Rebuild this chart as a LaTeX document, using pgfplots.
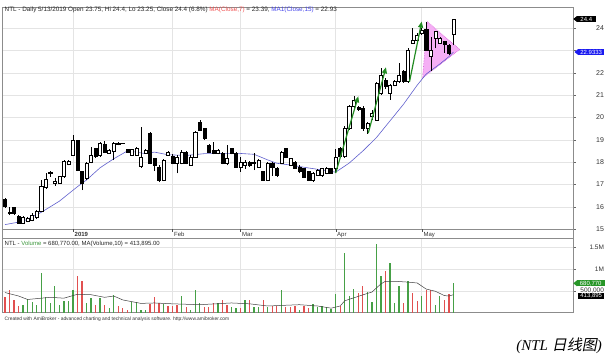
\documentclass[border=0pt]{standalone}
\usepackage{pgfplots}
\pgfplotsset{compat=1.18}
\usepackage{pgfplotstable}
\usetikzlibrary{arrows.meta}
\usepackage{fontspec}
\setmainfont{Liberation Sans}
\newfontfamily\serifit{Liberation Serif}
\newfontfamily\cjk[FakeSlant=0.2]{Noto Sans CJK SC}
\definecolor{gridc}{RGB}{228,228,228}
\definecolor{framec}{RGB}{140,140,140}
\definecolor{maBlue}{RGB}{95,95,205}
\definecolor{volG}{RGB}{70,160,70}
\definecolor{volR}{RGB}{225,80,80}
\definecolor{arrG}{RGB}{35,140,35}
\definecolor{pinkF}{RGB}{245,175,245}
\definecolor{pinkD}{RGB}{215,80,215}
\definecolor{boxBlue}{RGB}{25,25,240}
\definecolor{boxGreen}{RGB}{40,150,40}
\definecolor{titRed}{RGB}{240,80,80}
\definecolor{titBlue}{RGB}{70,70,235}
\definecolor{titGreen}{RGB}{60,150,60}

\pgfplotstableread{
i o h l c
0 16.34 16.40 15.95 16.03
1 15.75 15.97 15.63 15.72
2 15.97 16.00 15.65 15.70
3 15.58 15.62 15.25 15.28
4 15.28 15.60 15.25 15.55
5 15.33 15.55 15.30 15.48
6 15.40 15.70 15.35 15.63
7 15.52 15.85 15.45 15.78
8 15.82 17.20 15.80 16.93
9 16.87 17.50 16.80 17.22
10 17.50 17.60 17.35 17.53
11 17.05 17.30 16.95 17.16
12 17.07 17.40 17.05 17.37
13 17.37 18.10 17.30 18.04
14 17.90 18.10 17.85 18.04
15 18.31 19.20 18.30 18.99
16 18.99 19.00 17.60 17.64
17 17.57 17.60 16.75 17.07
18 17.27 18.00 17.20 17.94
19 18.01 18.69 17.95 18.31
20 18.61 18.65 18.20 18.27
21 18.31 18.90 18.25 18.84
22 18.79 18.95 18.40 18.46
23 18.42 18.60 18.40 18.54
24 18.50 18.90 18.09 18.84
25 18.78 18.90 18.75 18.84
26 18.85 18.88 18.82 18.84
27 18.58 18.60 18.44 18.46
28 18.31 18.60 18.30 18.57
29 18.31 18.70 18.30 18.64
30 17.80 19.58 17.75 18.24
31 18.42 18.60 18.40 18.54
32 19.31 19.35 17.90 17.97
33 18.16 18.20 17.60 17.87
34 17.79 17.85 17.10 17.19
35 17.19 18.15 17.15 18.09
36 18.31 18.50 18.28 18.46
37 18.27 18.35 17.90 17.97
38 17.94 18.30 17.50 18.24
39 17.94 18.55 17.90 18.46
40 18.46 18.50 17.90 17.97
41 17.87 18.30 17.85 18.21
42 18.24 19.40 18.20 19.36
43 19.81 19.90 19.40 19.43
44 19.50 19.55 19.00 19.06
45 18.76 18.80 18.40 18.46
46 18.54 18.90 18.35 18.39
47 18.39 18.60 18.35 18.54
48 18.39 18.45 17.90 17.94
49 17.94 18.76 17.85 18.16
50 18.61 18.65 18.35 18.39
51 18.39 18.45 17.75 17.79
52 17.79 18.24 17.57 18.01
53 17.87 18.10 17.70 18.01
54 18.01 18.05 17.80 17.87
55 18.01 18.39 17.64 17.94
56 17.79 18.15 17.75 18.09
57 17.57 17.60 17.15 17.19
58 17.19 18.00 17.15 17.94
59 17.94 18.00 17.40 17.79
60 17.72 17.80 17.35 17.42
61 17.94 18.50 17.90 18.46
62 18.61 18.65 18.20 18.24
63 17.87 18.20 17.85 18.16
64 18.01 18.05 17.70 17.72
65 17.79 17.85 17.50 17.57
66 17.72 17.75 17.30 17.34
67 17.57 17.60 17.15 17.19
68 17.19 17.55 17.10 17.49
69 17.42 17.70 17.40 17.64
70 17.42 17.75 17.35 17.72
71 17.49 17.78 17.45 17.72
72 17.72 17.75 17.50 17.52
73 17.72 18.60 17.50 18.24
74 18.63 18.70 18.20 18.25
75 18.25 19.60 18.20 19.52
76 19.52 20.55 19.45 20.49
77 20.49 20.95 20.40 20.79
78 20.46 20.50 20.30 20.37
79 20.42 20.50 19.40 19.52
80 19.52 19.80 19.27 19.75
81 20.04 20.34 19.90 20.19
82 19.90 21.60 19.85 21.54
83 21.09 22.20 21.00 21.90
84 21.69 21.75 21.30 21.39
85 21.09 21.50 20.80 21.46
86 21.46 21.70 21.40 21.61
87 21.61 22.43 21.55 21.90
88 22.09 22.15 21.55 21.61
89 21.61 23.10 21.55 23.03
90 23.33 24.00 23.30 23.48
91 23.48 23.80 23.40 23.70
92 23.78 24.00 23.70 23.93
93 23.96 24.30 23.00 23.03
94 22.73 23.60 22.10 23.03
95 23.55 23.90 23.10 23.85
96 23.33 23.60 23.30 23.55
97 23.40 23.45 22.90 23.28
98 23.25 23.30 22.80 22.88
99 23.75 24.40 23.25 24.40
}\candles

\pgfplotsset{
  panel/.style={
    anchor=south west, scale only axis, width=571pt,
    xmin=-0.66, xmax=125.4,
    axis line style={framec, line width=0.6pt},
    xtick={15,37,52,73,92}, xticklabel=\empty,
    major x tick style={draw=none},
    ytick pos=right, yticklabel pos=right,
    tick align=outside, major tick length=2.5pt,
    major y tick style={black!60, line width=0.5pt},
    grid=major, major grid style={gridc, line width=0.5pt},
  },
}

\begin{document}
\begin{tikzpicture}[x=1pt,y=1pt]
\path[use as bounding box] (0,0) rectangle (615,360);

% ---------------- price panel ----------------
\begin{axis}[panel,
  at={(2pt,130.7pt)}, height=222pt,
  ymin=14.99, ymax=24.94,
  ytick={15,16,17,18,19,20,21,22,23,24},
  yticklabels={15,16,17,18,19,20,21,22,{},24},
  yticklabel style={font=\fontsize{7}{7}\selectfont, text=black!80, anchor=east, xshift=32pt},
]
% triangle pattern
\addplot[fill=pinkF, draw=pinkD, densely dotted, line width=0.6pt] coordinates {(93.2,24.3) (92.2,21.78) (100.4,23.05)} -- cycle;
% MA(Close,15)
\addplot[maBlue, line width=0.6pt] coordinates {(0,15.2)(4,15.35)(8,15.75)(12,16.25)(16,16.9)(18,17.2)(21,17.75)(24,18.15)(27,18.5)(29,18.45)(31,18.38)(33,18.45)(36,18.33)(40,18.3)(44,18.38)(48,18.39)(52,18.39)(55,18.35)(58,18.1)(60,17.95)(63,17.87)(67,17.74)(70,17.65)(73,17.55)(76,17.96)(79,18.5)(82,19.1)(85,19.85)(88,20.6)(91,21.45)(93,21.95)(96,22.4)(98,22.73)(99,22.93)};
% candles, one wick and one body per table row
\pgfplotsforeachungrouped \rr in {0,...,99} {%
  \pgfplotstablegetelem{\rr}{i}\of\candles \let\ci\pgfplotsretval
  \pgfplotstablegetelem{\rr}{o}\of\candles \let\co\pgfplotsretval
  \pgfplotstablegetelem{\rr}{h}\of\candles \let\ch\pgfplotsretval
  \pgfplotstablegetelem{\rr}{l}\of\candles \let\cl\pgfplotsretval
  \pgfplotstablegetelem{\rr}{c}\of\candles \let\cc\pgfplotsretval
  \pgfmathsetmacro\xa{\ci-0.34}%
  \pgfmathsetmacro\xb{\ci+0.34}%
  \ifdim\cc pt<\co pt \def\bodyfill{black}\else\def\bodyfill{white}\fi
  \edef\cmd{%
    \noexpand\addplot[black, line width=0.5pt, forget plot] coordinates {(\ci,\cl) (\ci,\ch)};
    \noexpand\addplot[draw=black, fill=\bodyfill, line width=0.5pt, forget plot] coordinates {(\xa,\co) (\xb,\co) (\xb,\cc) (\xa,\cc)} -- cycle;
  }%
  \cmd
}
% trend arrows
\addplot[arrG, line width=1.2pt, -{Triangle[length=6pt,width=5pt]}] coordinates {(73,17.51) (78,20.95)};
\addplot[arrG, line width=1.2pt, -{Triangle[length=6pt,width=5pt]}] coordinates {(80.2,19.3) (84.1,22.25)};
\addplot[arrG, line width=1.2pt, -{Triangle[length=6pt,width=5pt]}] coordinates {(89.3,21.6) (92,24.3)};
\end{axis}

% ---------------- volume panel ----------------
\begin{axis}[panel,
  at={(2pt,47.5pt)}, height=74.2pt,
  ymin=0, ymax=1.7097,
  ytick={0.5,1,1.5},
  yticklabels={{500,000},1M,1.5M},
  yticklabel style={font=\fontsize{6.5}{6.5}\selectfont, text=black!80, anchor=east, xshift=32pt},
]
\addplot[ycomb, volG, line width=1.3pt] coordinates {(4,.18)(5,.31)(6,.25)(7,.18)(8,.92)(9,.35)(10,.23)(11,.60)(12,.18)(13,.27)(14,.27)(15,.52)(18,.23)(19,.33)(21,.33)(23,.10)(24,.41)(28,.25)(29,.25)(30,.05)(31,.05)(35,.19)(39,.37)(41,.06)(42,.51)(43,.23)(47,.22)(50,.12)(51,.10)(53,.29)(55,.12)(56,.12)(58,.12)(61,.51)(65,.05)(68,.20)(69,.12)(70,.15)(71,.12)(72,.08)(73,.43)(75,1.37)(76,.38)(77,.55)(80,.48)(81,.25)(82,1.58)(83,.83)(85,1.14)(86,.22)(87,.62)(89,.72)(92,.37)(95,.18)(96,.37)(99,.68)};
\addplot[ycomb, volR, line width=1.3pt] coordinates {(0,.35)(1,.52)(2,.29)(3,.15)(16,.85)(17,.73)(20,.18)(22,.18)(25,.15)(26,.10)(27,.06)(32,.20)(33,.35)(34,.22)(36,.15)(37,.14)(38,.18)(40,.12)(44,.12)(45,.12)(46,.22)(48,.29)(49,.18)(52,.10)(54,.29)(57,.28)(59,.15)(60,.14)(62,.12)(63,.12)(64,.14)(66,.15)(67,.10)(74,.15)(78,.46)(79,.62)(84,.96)(88,.22)(90,.46)(91,.27)(93,.52)(94,.51)(97,.28)(98,.43)};
\addplot[black!75, line width=0.5pt] coordinates {(0,.46)(3,.38)(5,.30)(8,.33)(10,.35)(13,.33)(16,.42)(19,.41)(22,.35)(24,.38)(26,.29)(28,.25)(30,.21)(33,.22)(37,.20)(43,.18)(50,.22)(54,.20)(58,.15)(65,.18)(69,.15)(72,.10)(74,.15)(75,.27)(80,.44)(81,.47)(83,.66)(84,.72)(86,.72)(89,.70)(91,.68)(93,.54)(95,.49)(97,.39)(98,.38)(99,.41)};
\end{axis}

% date strip
\draw[framec, line width=0.6pt] (2,121.7) rectangle (573,130.7);
\foreach \xx in {73,172.6,240.6,335.7,421.8} {\draw[black!70, line width=0.4pt] (\xx,130.7) -- (\xx,127.8);}
\begin{scope}[every node/.style={font=\fontsize{6}{6}\selectfont, anchor=base west, inner sep=0pt, text=black!80}]
\node at (74.5,123.8) {\bfseries 2019};
\node at (174,123.8) {Feb};
\node at (242,123.8) {Mar};
\node at (337,123.8) {Apr};
\node at (423.3,123.8) {May};
\end{scope}

% titles
\node[anchor=base west, inner sep=0pt, font=\fontsize{6.35}{6.35}\selectfont, text=black!85] at (4.5,348.2) {NTL - Daily 5/13/2019 Open 23.75, Hi 24.4, Lo 23.25, Close 24.4 (6.8\%) \textcolor{titRed}{MA(Close,7)} = 23.39, \textcolor{titBlue}{MA1(Close,15)} = 22.93};
\node[anchor=base west, inner sep=0pt, font=\fontsize{6}{6}\selectfont, text=black!85] at (4.5,114.8) {NTL - \textcolor{titGreen}{Volume} = 680,770.00, MA(Volume,10) = 413,895.00};
\node[anchor=base west, inner sep=0pt, font=\fontsize{4.9}{4.9}\selectfont, text=black!80] at (4.5,40) {Created with AmiBroker - advanced charting and technical analysis software. http://www.amibroker.com};

% value boxes (right axis)
\begin{scope}[every node/.style={font=\fontsize{6}{6}\selectfont, text=white, inner sep=0.6pt, minimum height=6.2pt, anchor=west}]
\fill[black] (573.3,341) -- (577,344) -- (577,338) -- cycle;
\node[fill=black, minimum width=18.5pt] at (576.8,341) {24.4};
\fill[boxBlue] (574.5,308) -- (578.2,311) -- (578.2,305) -- cycle;
\node[fill=boxBlue, minimum width=26pt] at (578,308) {22.9333};
\fill[boxGreen] (573.3,76.7) -- (577,79.7) -- (577,73.7) -- cycle;
\node[fill=boxGreen, minimum width=28pt] at (576.5,76.7) {680,770};
\node[fill=black, minimum width=26pt] at (578,64.3) {413,895};
\end{scope}

% caption
\node[anchor=base east, inner sep=0pt] at (602,10) {\fontsize{15}{15}\selectfont\serifit\itshape (NTL {\cjk 日线图})};
\end{tikzpicture}
\end{document}
